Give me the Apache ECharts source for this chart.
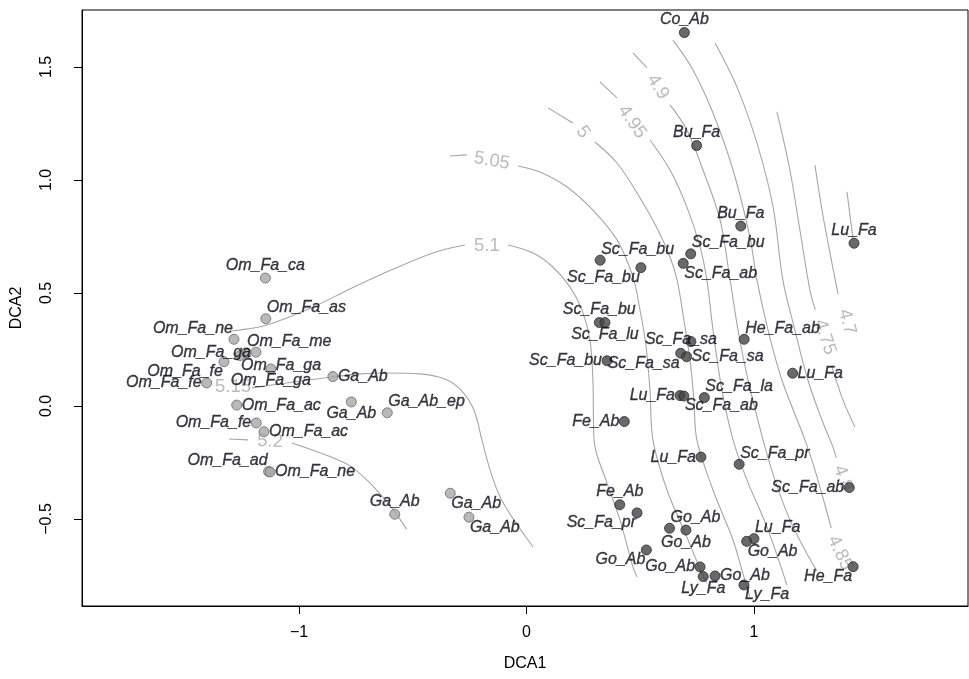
<!DOCTYPE html>
<html><head><meta charset="utf-8">
<script src="https://cdn.jsdelivr.net/npm/echarts@6/dist/echarts.min.js"></script>
<style>html,body{margin:0;padding:0;background:#fff}#c{width:969px;height:679px}</style>
</head><body><div id="c"></div>
<script>
// ---- site scores (DCA1, DCA2) ----
const siteNames = ['Om_Fa_ca','Om_Fa_as','Om_Fa_ne','Om_Fa_me','Om_Fa_ga','Om_Fa_ga','Om_Fa_fe','Om_Fa_ga','Om_Fa_fe','Ga_Ab','Om_Fa_ac','Ga_Ab','Ga_Ab_ep','Om_Fa_fe','Om_Fa_ac','Om_Fa_ad','Om_Fa_ne','Ga_Ab','Ga_Ab','Ga_Ab',
 'Co_Ab','Bu_Fa','Bu_Fa','Lu_Fa','Sc_Fa_bu','Sc_Fa_bu','Sc_Fa_bu','Sc_Fa_ab','Sc_Fa_bu','Sc_Fa_lu','Sc_Fa_bu','Sc_Fa_sa','Sc_Fa_sa','Sc_Fa_sa','He_Fa_ab','Lu_Fa','Sc_Fa_ab','Sc_Fa_la','Fe_Ab','Lu_Fa','Lu_Fa','Sc_Fa_pr','Sc_Fa_ab','Fe_Ab','Sc_Fa_pr','Go_Ab','Go_Ab','Go_Ab','Go_Ab','Ly_Fa','Go_Ab','Ly_Fa','Lu_Fa','Go_Ab','He_Fa'];
const siteX = [-1.148,-1.146,-1.286,-1.233,-1.189,-1.259,-1.330,-1.124,-1.406,-0.851,-1.274,-0.770,-0.612,-1.188,-1.154,-1.134,-1.127,-0.579,-0.335,-0.253,
 0.694,0.748,0.942,1.440,0.324,0.503,0.722,0.689,0.320,0.345,0.354,0.723,0.678,0.704,0.957,0.675,0.692,0.782,0.430,1.170,0.767,0.935,1.419,0.410,0.486,0.629,0.701,0.527,0.763,0.777,0.829,0.956,1.000,0.968,1.436];
const siteY = [0.566,0.386,0.295,0.235,0.238,0.223,0.196,0.164,0.102,0.130,0.004,0.018,-0.030,-0.075,-0.114,-0.290,-0.292,-0.479,-0.386,-0.492,
 1.652,1.152,0.796,0.720,0.645,0.612,0.673,0.631,0.369,0.369,0.200,0.285,0.233,0.218,0.295,0.046,0.044,0.037,-0.069,0.145,-0.226,-0.258,-0.361,-0.437,-0.473,-0.541,-0.549,-0.637,-0.712,-0.755,-0.752,-0.792,-0.587,-0.599,-0.711];
// label placement around each point
const labelPlace = ['t','tr','tl','tr','l','br','bl','b','l','r','r','b','tr','l','r','tl','r','t','br','br',
 't','t','t','t','tr','bl','tr','br','t','b','l','c','bl','r','tr','l','br','tr','l','r','l','tr','l','t','bl','tr','b','bl','l','b','r','br','tr','br','bl'];

// ---- ordisurf contour lines (segments split where the level label sits) ----
const c520 = [[[-1.308,-0.146],[-1.224,-0.150]],[[-1.031,-0.164],[-0.864,-0.224],[-0.776,-0.265],[-0.702,-0.327],[-0.644,-0.389],[-0.585,-0.460],[-0.527,-0.546]]];
const c515 = [[[-1.207,0.080],[-1.026,0.106],[-0.855,0.128],[-0.732,0.142],[-0.613,0.146],[-0.468,0.142],[-0.358,0.119],[-0.284,0.066],[-0.231,-0.018],[-0.196,-0.150],[-0.160,-0.283],[-0.116,-0.403],[-0.046,-0.518],[0.029,-0.624]]];
const c510 = [[[-1.295,0.332],[-1.141,0.358],[-0.938,0.438],[-0.776,0.518],[-0.644,0.580],[-0.411,0.677],[-0.270,0.712]],[[-0.081,0.712],[0.029,0.677],[0.116,0.615],[0.191,0.527],[0.244,0.425],[0.279,0.292],[0.292,0.115],[0.297,-0.150],[0.354,-0.341],[0.411,-0.504],[0.468,-0.712],[0.486,-0.757]]];
const c505 = [[[-0.336,1.106],[-0.262,1.111]],[[-0.037,1.062],[0.059,1.035],[0.178,0.969],[0.292,0.867],[0.398,0.735],[0.468,0.571],[0.499,0.425],[0.525,0.270],[0.543,0.071],[0.556,-0.150],[0.618,-0.372],[0.705,-0.580],[0.771,-0.739],[0.793,-0.783]]];
const c500 = [[[0.095,1.319],[0.204,1.252]],[[0.301,1.168],[0.398,1.075],[0.486,0.942],[0.578,0.779],[0.631,0.659],[0.662,0.558],[0.692,0.381],[0.719,0.204],[0.736,0.027],[0.749,-0.150],[0.820,-0.372],[0.908,-0.593],[0.947,-0.726],[0.982,-0.845]]];
const c495 = [[[0.323,1.434],[0.398,1.363]],[[0.543,1.177],[0.631,1.044],[0.705,0.881],[0.763,0.704],[0.793,0.558],[0.820,0.336],[0.859,0.071],[0.908,-0.150],[0.969,-0.327],[1.057,-0.535],[1.145,-0.792]]];
const c490 = [[[0.468,1.562],[0.530,1.496]],[[0.631,1.332],[0.705,1.221],[0.776,1.044],[0.851,0.823],[0.895,0.558],[0.930,0.336],[0.974,0.115],[1.040,-0.150],[1.092,-0.327],[1.158,-0.504],[1.224,-0.637],[1.277,-0.730]]];
const c485 = [[[0.644,1.619],[0.732,1.487],[0.820,1.296],[0.908,1.044],[0.982,0.748],[1.013,0.558],[1.062,0.336],[1.123,0.115],[1.224,-0.150],[1.268,-0.283],[1.312,-0.438],[1.340,-0.540]]];
const c480 = [[[0.829,1.606],[0.925,1.412],[1.013,1.164],[1.084,0.881],[1.127,0.558],[1.180,0.336],[1.237,0.115],[1.299,-0.062],[1.347,-0.181],[1.362,-0.230]]];
const c475 = [[[1.101,1.301],[1.158,1.044],[1.202,0.779],[1.246,0.513],[1.270,0.425]],[[1.342,0.176],[1.391,0.027],[1.444,-0.093]]];
const c470 = [[[1.268,1.066],[1.303,0.845],[1.347,0.611],[1.370,0.495]]];
const c465 = [[[1.409,0.947],[1.435,0.743]]];
// contour level labels
const levelText = ['5.2','5.15','5.1','5.05','5','4.95','4.9','4.85','4.8','4.75','4.7'];
const levelX = [-1.127,-1.290,-0.174,-0.152,0.248,0.464,0.578,1.378,1.391,1.312,1.409];
const levelY = [-0.157,0.084,0.708,1.084,1.212,1.257,1.412,-0.650,-0.319,0.305,0.372];
const levelAngle = [-2,0,0,-10,-55,-55,-58,-65,-70,-72,-75];

// ---- axes ----
const xTicks = [-1,0,1];
const yTicks = [-0.5,0,0.5,1,1.5];
const xRange = [-1.954,1.941];
const yRange = [-0.885,1.752];

const contours = [c520,c515,c510,c505,c500,c495,c490,c485,c480,c475,c470,c465];
const FONT = '"Liberation Sans", Arial, sans-serif';
const minus = s => String(s).replace('-', '\u2212');

const placeMap = {
  r:  {align:'left',  offset:[5,0]},
  l:  {align:'right', offset:[-5,0]},
  t:  {align:'center',offset:[0,-13]},
  b:  {align:'center',offset:[0,12]},
  tr: {align:'left',  offset:[1,-11]},
  tl: {align:'right', offset:[-1,-11]},
  br: {align:'left',  offset:[1,10]},
  bl: {align:'right', offset:[-1,10]},
  c:  {align:'center',offset:[-10,-2]}
};

const series = [];
contours.forEach(c => c.forEach(seg => {
  series.push({type:'line', data:seg, smooth:0.35, symbol:'none', silent:true, z:1,
    lineStyle:{color:'#a6a6a6', width:1.1}});
}));
series.push({type:'scatter', z:2, symbolSize:0, silent:true,
  data: levelText.map((t,i)=>({value:[levelX[i],levelY[i]],
    label:{show:true, formatter:t, position:'inside', rotate:levelAngle[i], color:'#aaaaaa',
      fontSize:18.5, fontFamily:FONT, align:'center', verticalAlign:'middle'}}))});
series.push({type:'scatter', z:3, symbolSize:10, silent:true,
  data: siteNames.map((n,i)=>{
    const light = /^(Om|Ga)_/.test(n);
    const p = placeMap[labelPlace[i]];
    return {value:[siteX[i],siteY[i]],
      itemStyle: light ? {color:'#a8a8a8', borderColor:'#6a6a6a', borderWidth:1}
                       : {color:'#444444', borderColor:'#2a2a2a', borderWidth:1},
      label:{show:true, formatter:n, position:'inside', align:p.align, verticalAlign:'middle',
        offset:p.offset, color:'#0a0a18', textBorderColor:'#0a0a18', textBorderWidth:0.35,
        fontStyle:'italic', fontSize:16, fontFamily:FONT}};
  })});

const chart = echarts.init(document.getElementById('c'), null, {renderer:'canvas'});
chart.setOption({
  animation:false,
  backgroundColor:'#fff',
  grid:{left:82, right:1, top:10, bottom:73, containLabel:false, outerBoundsMode:'none',
    show:true, borderColor:'#000', borderWidth:1, backgroundColor:'transparent'},
  xAxis:{type:'value', min:xRange[0], max:xRange[1], name:'DCA1', nameLocation:'middle', nameGap:50,
    nameTextStyle:{fontSize:16, fontFamily:FONT, color:'#000'},
    axisLine:{show:true, onZero:false, lineStyle:{color:'#000'}},
    axisTick:{show:true, length:8, customValues:xTicks, lineStyle:{color:'#000'}},
    axisLabel:{customValues:xTicks, formatter:v=>minus(v), fontSize:16, fontFamily:FONT, color:'#000', margin:19},
    splitLine:{show:false}},
  yAxis:{type:'value', min:yRange[0], max:yRange[1], name:'DCA2', nameLocation:'middle', nameGap:57, nameRotate:90,
    nameTextStyle:{fontSize:16, fontFamily:FONT, color:'#000'},
    axisLine:{show:true, onZero:false, lineStyle:{color:'#000'}},
    axisTick:{show:true, length:8, customValues:yTicks, lineStyle:{color:'#000'}},
    axisLabel:{customValues:yTicks, rotate:90, formatter:v=>minus(Number(v).toFixed(1)), fontSize:16, fontFamily:FONT, color:'#000', margin:27},
    splitLine:{show:false}},
  series
});
</script></body></html>
